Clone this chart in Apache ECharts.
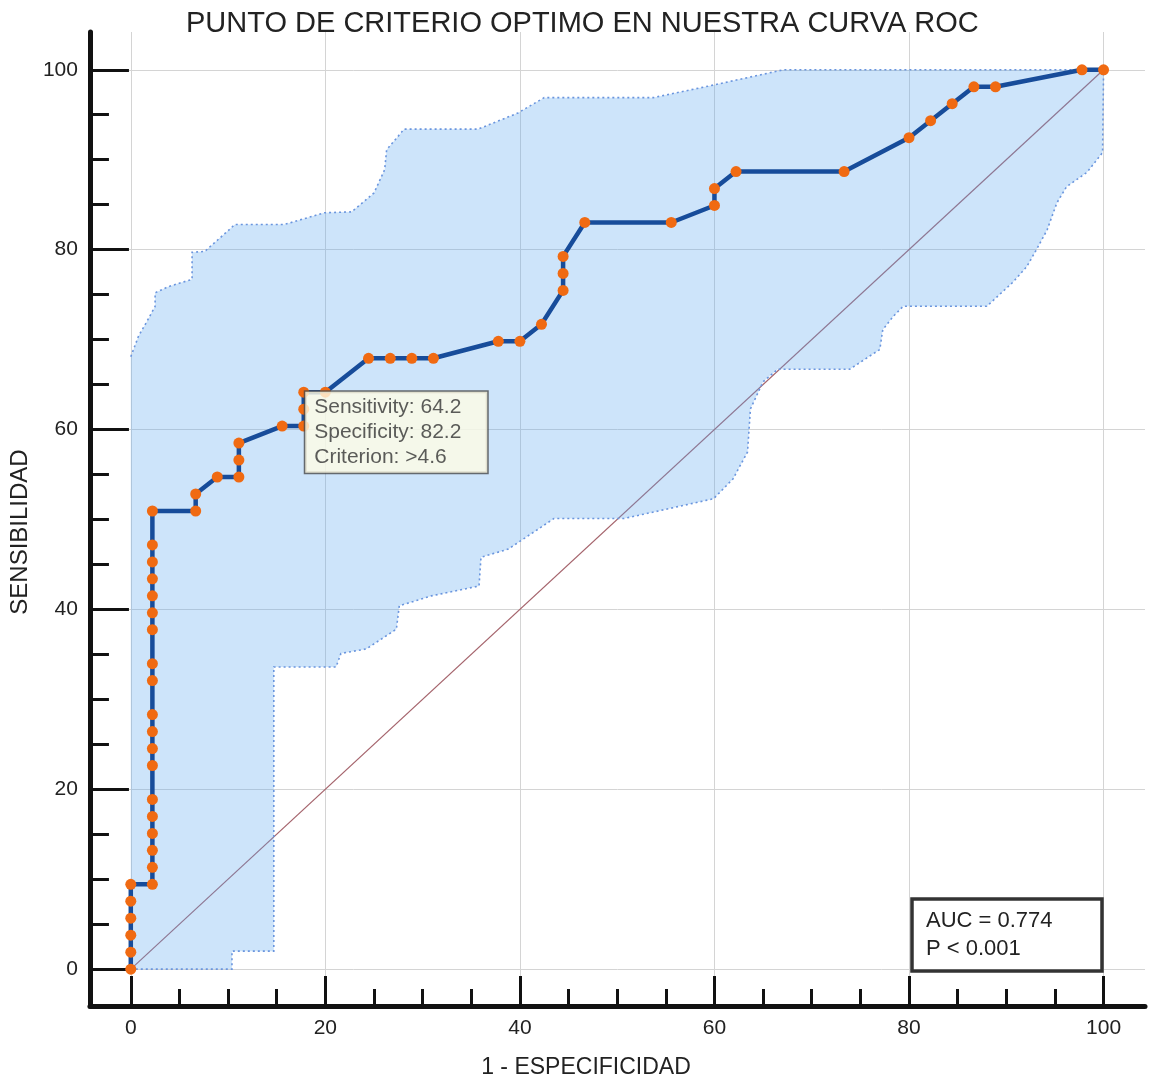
<!DOCTYPE html>
<html>
<head>
<meta charset="utf-8">
<script src="https://cdn.jsdelivr.net/npm/echarts@6/dist/echarts.min.js"></script>
<style>
html,body{margin:0;padding:0;background:#ffffff;}
#chart{width:1149px;height:1084px;}
</style>
</head>
<body>
<div id="chart"></div>
<script>
// ---- Data (percent) ----
const rocX = [0, 0, 0, 0, 0, 0, 2.22, 2.22, 2.22, 2.22, 2.22, 2.22, 2.22, 2.22, 2.22, 2.22, 2.22, 2.22, 2.22, 2.22, 2.22, 2.22, 2.22, 2.22, 2.22,
  6.67, 6.67, 8.89, 11.11, 11.11, 11.11, 15.56, 17.78, 17.78, 17.78, 20.00, 24.44, 26.67, 28.89, 31.11, 37.78, 40.00, 42.22,
  44.44, 44.44, 44.44, 46.67, 55.56, 60.00, 60.00, 62.22, 73.33, 80.00, 82.22, 84.44, 86.67, 88.89, 97.78, 100];
const rocY = [0, 1.89, 3.77, 5.66, 7.55, 9.43, 9.43, 11.32, 13.21, 15.09, 16.98, 18.87, 22.64, 24.53, 26.42, 28.30, 32.08, 33.96, 37.74, 39.62, 41.51, 43.40, 45.28, 47.17, 50.94,
  50.94, 52.83, 54.72, 54.72, 56.60, 58.49, 60.38, 60.38, 62.26, 64.15, 64.15, 67.92, 67.92, 67.92, 67.92, 69.81, 69.81, 71.70,
  75.47, 77.36, 79.25, 83.02, 83.02, 84.91, 86.79, 88.68, 88.68, 92.45, 94.34, 96.23, 98.11, 98.11, 100, 100];

const bandUpperX = [0, 0.8, 1.6, 2.5, 2.5, 3.9, 6.3, 6.3, 7.6, 10.1, 10.7, 15.8, 19.9, 22.7, 25.0, 26.1, 26.3, 28.1, 35.7, 39.8, 42.5, 53.7, 59.9, 67.1, 100];
const bandUpperY = [68.1, 70.4, 71.9, 73.7, 75.2, 75.9, 76.7, 79.7, 79.8, 82.2, 82.8, 82.8, 84.1, 84.2, 86.3, 88.9, 91.1, 93.4, 93.4, 95.2, 96.9, 96.9, 98.3, 100, 100];
const bandLowerX = [0, 10.4, 10.4, 14.7, 14.7, 21.1, 21.6, 24.2, 27.3, 27.6, 30.9, 35.8, 36.0, 38.8, 43.5, 50.7, 59.9, 61.9, 63.4, 63.7, 65.0, 66.5, 73.9, 77.0, 77.3, 78.4, 79.4, 88.0, 90.7, 92.1, 93.1, 94.2, 95.2, 96.2, 98.3, 99.9, 100];
const bandLowerY = [0, 0, 2.0, 2.0, 33.6, 33.6, 35.1, 35.6, 37.8, 40.4, 41.5, 42.6, 45.8, 46.7, 50.1, 50.1, 52.3, 54.5, 57.5, 62.3, 65.3, 66.7, 66.7, 68.9, 71.1, 72.6, 73.7, 73.7, 76.4, 78.1, 80.0, 82.2, 85.2, 87.0, 88.6, 90.8, 100];

const diagonalX = [0, 100];
const diagonalY = [0, 100];

const criterionPoint = [17.78, 64.15];
const criterionLines = ['Sensitivity: 64.2', 'Specificity: 82.2', 'Criterion: >4.6'];
const statsLines = ['AUC = 0.774', 'P < 0.001'];

const majorTicks = [0, 20, 40, 60, 80, 100];
const minorTicks = [5, 10, 15, 25, 30, 35, 45, 50, 55, 65, 70, 75, 85, 90, 95];

const titleText = 'PUNTO DE CRITERIO OPTIMO EN NUESTRA CURVA ROC';
const xName = '1 - ESPECIFICIDAD';
const yName = 'SENSIBILIDAD';

// ---- Chart ----
const FONT = '"Liberation Sans", Arial, Helvetica, sans-serif';
const chart = echarts.init(document.getElementById('chart'), null, {renderer: 'canvas'});

const X_MIN = -4.2, X_MAX = 104.26, Y_MIN = -4.1, Y_MAX = 104.2;

function mainAxis(extra) {
  return Object.assign({
    type: 'value',
    z: 3,
    axisLine: {show: true, onZero: false, lineStyle: {color: '#111', width: 5}},
    axisTick: {show: true, inside: true, customValues: majorTicks, lineStyle: {color: '#111', width: 3}},
    axisLabel: {show: true, customValues: majorTicks, margin: 12, fontSize: 21, color: '#222', fontFamily: FONT},
    splitLine: {show: false},
    minorTick: {show: false}
  }, extra);
}
function minorAxis(extra) {
  return Object.assign({
    type: 'value',
    z: 3,
    axisLine: {show: false, onZero: false},
    axisTick: {show: true, inside: true, customValues: minorTicks, lineStyle: {color: '#111', width: 3}},
    axisLabel: {show: false},
    splitLine: {show: false}
  }, extra);
}

const xA0 = mainAxis({min: X_MIN, max: X_MAX, position: 'bottom',
  name: xName, nameLocation: 'middle', nameGap: 50,
  nameTextStyle: {fontSize: 23, color: '#222', fontFamily: FONT, padding: [0, 63, 0, 0]}});
xA0.axisTick.length = 30;
const xA1 = minorAxis({min: X_MIN, max: X_MAX, position: 'bottom'});
xA1.axisTick.length = 17;

const yA0 = mainAxis({min: Y_MIN, max: Y_MAX, position: 'left',
  name: yName, nameLocation: 'middle', nameGap: 54,
  nameTextStyle: {fontSize: 24, color: '#222', fontFamily: FONT, padding: [0, 26, 0, 0]}});
yA0.axisTick.length = 39;
const yA1 = minorAxis({min: Y_MIN, max: Y_MAX, position: 'left'});
yA1.axisTick.length = 19;

function pts(xs, ys) { return xs.map((x, i) => [x, ys[i]]); }

const option = {
  animation: false,
  backgroundColor: '#ffffff',
  title: [
    {text: titleText, left: 186, top: 9, padding: 0,
     textStyle: {fontSize: 29, fontWeight: 'normal', color: '#222', fontFamily: FONT}},
    {text: statsLines.join('\n'), left: 912, top: 899, padding: [8, 14, 8, 14],
     backgroundColor: '#ffffff', borderColor: '#333', borderWidth: 3.5, z: 10,
     textStyle: {fontSize: 22, lineHeight: 28, fontWeight: 'normal', color: '#222', fontFamily: FONT, width: 162}}
  ],
  grid: {left: 88, right: 4, top: 32, bottom: 76, containLabel: false},
  xAxis: [xA0, xA1],
  yAxis: [yA0, yA1],
  series: [
    {
      // diagonal reference line + grid lines
      type: 'line',
      z: 1,
      data: pts(diagonalX, diagonalY),
      symbol: 'none',
      silent: true,
      lineStyle: {color: '#a5646c', width: 1.2},
      markLine: {
        silent: true,
        symbol: 'none',
        z: 1,
        label: {show: false},
        lineStyle: {color: '#d4d4d4', width: 1, type: 'solid'},
        emphasis: {disabled: true},
        data: majorTicks.map(v => ({xAxis: v})).concat(majorTicks.map(v => ({yAxis: v})))
      }
    },
    {
      // confidence band
      type: 'custom',
      z: 2,
      silent: true,
      data: [[0, 0]],
      renderItem: function (params, api) {
        const up = bandUpperX.map((x, i) => api.coord([x, bandUpperY[i]]));
        const lo = bandLowerX.map((x, i) => api.coord([x, bandLowerY[i]]));
        const poly = up.concat(lo.slice().reverse());
        const dotted = {stroke: '#6a95de', lineWidth: 1.6, lineDash: [2, 3], fill: null};
        return {
          type: 'group',
          children: [
            {type: 'polygon', shape: {points: poly}, style: {fill: 'rgba(90,165,240,0.30)', stroke: null}},
            {type: 'polyline', shape: {points: up}, style: dotted},
            {type: 'polyline', shape: {points: lo}, style: dotted}
          ]
        };
      }
    },
    {
      // ROC curve
      type: 'line',
      z: 5,
      data: pts(rocX, rocY),
      symbol: 'circle',
      symbolSize: 11,
      showAllSymbol: true,
      itemStyle: {color: '#f06a12', borderWidth: 0},
      lineStyle: {color: '#174c9a', width: 4.5},
      silent: true
    },
    {
      // criterion label box
      type: 'scatter',
      z: 8,
      data: [criterionPoint],
      symbol: 'circle',
      symbolSize: 1,
      itemStyle: {color: 'rgba(0,0,0,0)'},
      silent: true,
      label: {
        show: true,
        position: [2, 0],
        align: 'left',
        verticalAlign: 'top',
        formatter: criterionLines.join('\n'),
        backgroundColor: '#fffde6',
        borderColor: '#4a4a4a',
        borderWidth: 1.5,
        padding: [3, 10, 3, 9],
        width: 163,
        fontSize: 21,
        lineHeight: 25,
        color: '#333',
        fontFamily: FONT
      }
    }
  ]
};
chart.setOption(option);
</script>
</body>
</html>
